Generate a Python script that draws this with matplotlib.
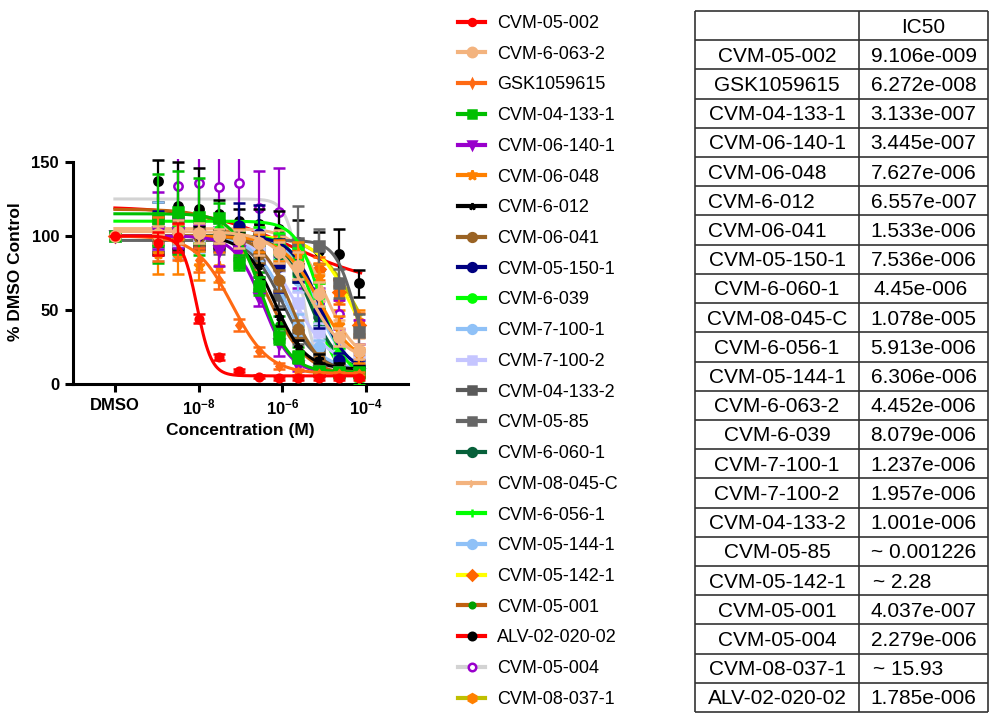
import numpy as np
import matplotlib
matplotlib.use('Agg')
import matplotlib.pyplot as plt
from matplotlib.lines import Line2D

plt.rcParams['font.family'] = ['Liberation Sans', 'DejaVu Sans']
plt.rcParams['mathtext.fontset'] = 'custom'
plt.rcParams['mathtext.rm'] = 'Liberation Sans'
plt.rcParams['mathtext.bf'] = 'Liberation Sans:bold'

# concentrations (M); first one is the DMSO control, drawn at 1e-10
conc = [1e-10, 1.1e-9, 3.3e-9, 1e-8, 3e-8, 9e-8, 2.7e-7, 8.1e-7, 2.4e-6, 7.3e-6, 2.2e-5, 6.6e-5]

names = ['CVM-05-002', 'CVM-6-063-2', 'GSK1059615', 'CVM-04-133-1', 'CVM-06-140-1',
         'CVM-06-048', 'CVM-6-012', 'CVM-06-041', 'CVM-05-150-1', 'CVM-6-039',
         'CVM-7-100-1', 'CVM-7-100-2', 'CVM-04-133-2', 'CVM-05-85', 'CVM-6-060-1',
         'CVM-08-045-C', 'CVM-6-056-1', 'CVM-05-144-1', 'CVM-05-142-1', 'CVM-05-001',
         'ALV-02-020-02', 'CVM-05-004', 'CVM-08-037-1']

# % DMSO control, mean per concentration
resp = [
    [100, 95, 99, 44, 18, 9, 5, 4, 4, 4, 4, 4],
    [100, 101, 103, 102, 100, 98, 95, 89, 80, 61, 32, 22],
    [100, 98, 96, 84, 70, 40, 22, 12, 8, 7, 7, 7],
    [100, 112, 116, 113, 112, 82, 66, 32, 18, 9, 8, 8],
    [100, 103, 102, 100, 90, 90, 58, 27, 12, 9, 8, 7],
    [100, 88, 86, 80, 79, 97, 95, 90, 88, 72, 40, 19],
    [100, 100, 101, 99, 98, 96, 80, 45, 25, 17, 12, 10],
    [100, 97, 98, 99, 97, 95, 88, 70, 37, 17, 10, 8],
    [100, 102, 101, 103, 100, 107, 101, 80, 79, 50, 16, 12],
    [100, 104, 106, 103, 104, 102, 100, 95, 85, 60, 20, 8],
    [100, 103, 100, 101, 99, 97, 88, 70, 40, 25, 15, 12],
    [100, 101, 102, 100, 99, 98, 93, 80, 55, 35, 22, 18],
    [100, 98, 100, 99, 98, 95, 85, 60, 33, 20, 14, 12],
    [100, 99, 97, 98, 96, 95, 93, 92, 95, 93, 68, 35],
    [100, 99, 98, 97, 98, 96, 95, 88, 75, 45, 20, 12],
    [100, 106, 104, 106, 103, 101, 100, 97, 88, 65, 35, 25],
    [100, 100, 99, 100, 98, 97, 96, 90, 80, 50, 10, 2],
    [100, 98, 99, 97, 96, 95, 92, 85, 70, 48, 27, 16],
    [100, 99, 98, 99, 97, 98, 96, 94, 90, 78, 62, 40],
    [100, 102, 104, 103, 98, 92, 70, 40, 20, 10, 7, 6],
    [100, 137, 120, 118, 115, 110, 108, 105, 96, 90, 88, 68],
    [100, 110, 134, 136, 133, 136, 119, 116, 80, 55, 47, 35],
    [100, 97, 99, 98, 100, 97, 95, 93, 88, 75, 58, 42],
]

# standard deviation per concentration
sd = [
    [0, 8, 10, 3, 2, 1, 1, 1, 1, 1, 1, 1],
    [0, 6, 8, 7, 5, 6, 8, 7, 9, 8, 6, 5],
    [0, 15, 12, 8, 6, 4, 3, 2, 2, 1, 1, 1],
    [0, 30, 28, 26, 10, 5, 6, 5, 4, 2, 2, 2],
    [0, 12, 10, 8, 10, 6, 5, 8, 3, 2, 1, 1],
    [0, 14, 12, 10, 10, 8, 6, 7, 8, 9, 6, 5],
    [0, 12, 10, 8, 6, 6, 8, 6, 5, 3, 2, 2],
    [0, 8, 7, 6, 5, 5, 6, 7, 6, 4, 3, 2],
    [0, 15, 12, 10, 10, 15, 20, 18, 10, 12, 5, 4],
    [0, 10, 8, 8, 7, 6, 6, 7, 7, 8, 4, 3],
    [0, 20, 15, 12, 10, 8, 7, 8, 7, 5, 4, 3],
    [0, 10, 9, 8, 7, 6, 12, 8, 7, 6, 5, 4],
    [0, 8, 7, 6, 6, 5, 6, 7, 6, 5, 4, 3],
    [0, 10, 9, 8, 8, 8, 8, 9, 25, 12, 10, 12],
    [0, 6, 6, 5, 5, 5, 5, 6, 6, 6, 4, 3],
    [0, 8, 8, 7, 7, 6, 6, 7, 8, 9, 8, 6],
    [0, 8, 7, 7, 6, 6, 6, 6, 7, 8, 4, 3],
    [0, 8, 7, 7, 6, 6, 6, 7, 7, 8, 6, 5],
    [0, 7, 7, 6, 6, 6, 6, 6, 7, 8, 8, 8],
    [0, 8, 8, 7, 7, 6, 6, 6, 5, 4, 3, 2],
    [0, 14, 30, 28, 9, 8, 10, 12, 15, 13, 17, 9],
    [0, 20, 25, 30, 30, 30, 25, 30, 15, 10, 10, 8],
    [0, 8, 7, 7, 6, 6, 6, 7, 7, 7, 8, 8],
]

# four-parameter logistic fits
top = [100, 103, 100, 115, 100, 100, 100, 100, 100, 110, 100, 100,
       100, 97, 100, 105, 100, 100, 100, 118, 120, 125, 100]
bottom = [5.5, 15, 7, 8, 7, 12, 10, 8, 8, 5, 10, 12,
          10, 0, 10, 15, 3, 10, 0, 5, 65, 8, 0]
log_ic50 = [-8.04, -5.35, -7.2, -6.5, -6.46, -5.12, -6.18, -5.81, -5.12, -5.09, -5.91, -5.71,
            -6.0, -4.25, -5.35, -4.97, -5.23, -5.2, -4.3, -6.39, -5.75, -5.55, -4.2]
hill = [2.5, 1.0, 1.0, 1.3, 1.3, 1.0, 1.2, 1.3, 1.3, 1.5, 1.1, 1.0,
        1.1, 1.8, 1.3, 1.2, 1.6, 1.3, 1.0, 0.9, 0.4, 2.5, 0.9]

# IC50 table (its own order)
table_names = ['CVM-05-002', 'GSK1059615', 'CVM-04-133-1', 'CVM-06-140-1', 'CVM-06-048',
               'CVM-6-012', 'CVM-06-041', 'CVM-05-150-1', 'CVM-6-060-1', 'CVM-08-045-C',
               'CVM-6-056-1', 'CVM-05-144-1', 'CVM-6-063-2', 'CVM-6-039', 'CVM-7-100-1',
               'CVM-7-100-2', 'CVM-04-133-2', 'CVM-05-85', 'CVM-05-142-1', 'CVM-05-001',
               'CVM-05-004', 'CVM-08-037-1', 'ALV-02-020-02']
table_ic50 = ['9.106e-009', '6.272e-008', '3.133e-007', '3.445e-007', '7.627e-006',
              '6.557e-007', '1.533e-006', '7.536e-006', '4.45e-006', '1.078e-005',
              '5.913e-006', '6.306e-006', '4.452e-006', '8.079e-006', '1.237e-006',
              '1.957e-006', '1.001e-006', '~ 0.001226', '~ 2.28', '4.037e-007',
              '2.279e-006', '~ 15.93', '1.785e-006']

# styles
line_colors = ['#FF0000', '#F3B37E', '#FF6A13', '#00BF00', '#9900CC', '#FF8000', '#000000',
               '#9A6324', '#000080', '#00FF00', '#8FC1F7', '#C5C5FF', '#5A5A5A', '#666666',
               '#07603A', '#F3B37E', '#00FF00', '#8FC1F7', '#FFFF00', '#C0600F', '#FF0000',
               '#D3D3D3', '#BFBF00']
marker_colors = ['#FF0000', '#F3B37E', '#FF6A13', '#00BF00', '#9900CC', '#FF8000', '#000000',
                 '#9A6324', '#000080', '#00FF00', '#8FC1F7', '#C5C5FF', '#5A5A5A', '#666666',
                 '#07603A', '#F3B37E', '#00FF00', '#8FC1F7', '#FF6600', '#00A000', '#000000',
                 '#9900CC', '#FF8000']
markers = ['o', 'o', 'd', 's', 'v', '*', '*', 'o', 'o', 'o', 'o', 's', 's', 's', 'o',
           '4', '+', 'o', 'D', 'o', 'o', 'o', 'h']
msizes = [5.5, 7.5, 4.5, 7, 7, 8, 5.5, 7, 7, 6.5, 7, 7, 7, 7, 7, 7, 7, 7, 6, 4.5, 6, 6, 7]

fig = plt.figure(figsize=(9.9, 7.13), dpi=100)
ax = fig.add_axes([73 / 990, 1 - 384 / 713, 335 / 990, 225 / 713])

xfit = np.logspace(-10, -4.13, 300)
n = len(names)
for i in range(n):
    z = 10 + 3 * (n - i)
    yfit = bottom[i] + (top[i] - bottom[i]) / (1 + 10 ** ((np.log10(xfit) - log_ic50[i]) * hill[i]))
    ax.plot(xfit, yfit, color=line_colors[i], lw=2.2, zorder=z)
    face = 'white' if i == 21 else marker_colors[i]
    ax.errorbar(conc, resp[i], yerr=sd[i], fmt=markers[i], color=marker_colors[i],
                ms=msizes[i], mfc=face, mec=marker_colors[i], mew=1.8,
                elinewidth=1.6, capsize=4, capthick=1.6, zorder=z + 1)

ax.set_xscale('log')
ax.set_xlim(1e-11, 1e-3)
ax.set_ylim(0, 152)
ax.spines['left'].set_bounds(0, 150)
ax.spines['top'].set_visible(False)
ax.spines['right'].set_visible(False)
ax.spines['left'].set_linewidth(2.2)
ax.spines['bottom'].set_linewidth(2.2)
ax.set_xticks([1e-10, 1e-8, 1e-6, 1e-4])
ax.set_xticklabels(['DMSO', r'$\mathbf{10^{-8}}$', r'$\mathbf{10^{-6}}$', r'$\mathbf{10^{-4}}$'])
ax.xaxis.set_minor_locator(matplotlib.ticker.NullLocator())
ax.set_yticks([0, 50, 100, 150])
ax.tick_params(axis='both', width=2.2, length=6, labelsize=12, pad=4)
for lab in ax.get_xticklabels() + ax.get_yticklabels():
    lab.set_fontweight('bold')
ax.set_xlabel('Concentration (M)', fontsize=12.5, fontweight='bold', labelpad=4)
ax.set_ylabel('% DMSO Control', fontsize=12.5, fontweight='bold', labelpad=6)

# legend
handles = []
for i in range(n):
    face = 'white' if i == 21 else marker_colors[i]
    handles.append(Line2D([0], [0], color=line_colors[i], lw=3, marker=markers[i],
                          ms=msizes[i] * 0.9, mfc=face, mec=marker_colors[i], mew=1.8))
fig.legend(handles, names, loc='upper left', bbox_to_anchor=(458 / 990, 1 - 15 / 713),
           frameon=False, fontsize=13, handlelength=1.5, handletextpad=0.66,
           labelspacing=0.76, borderpad=0, borderaxespad=0, numpoints=1)

# IC50 table
tax = fig.add_axes([695 / 990, 1 - 712 / 713, 293 / 990, 701 / 713])
tax.set_xlim(0, 293)
tax.set_ylim(24, 0)
tax.axis('off')
nrows = len(table_names) + 1
tax.hlines(np.arange(nrows + 1), 0, 293, color='#333333', lw=1.2, clip_on=False)
tax.vlines([0, 164, 293], 0, nrows, color='#333333', lw=1.2, clip_on=False)
tax.text(228.5, 0.55, 'IC50', ha='center', va='center', fontsize=15)
left_a = ['CVM-06-048', 'CVM-6-012', 'CVM-06-041']
left_b = ['4.45e-006', '~ 2.28', '~ 15.93']
for r, (nm, val) in enumerate(zip(table_names, table_ic50)):
    yy = r + 1.55
    if nm in left_a:
        tax.text(13, yy, nm, ha='left', va='center', fontsize=15)
    else:
        tax.text(82, yy, nm, ha='center', va='center', fontsize=15)
    if val in left_b:
        tax.text(178, yy, val, ha='left', va='center', fontsize=15)
    else:
        tax.text(228.5, yy, val, ha='center', va='center', fontsize=15)

fig.savefig('out.png', dpi=100)
